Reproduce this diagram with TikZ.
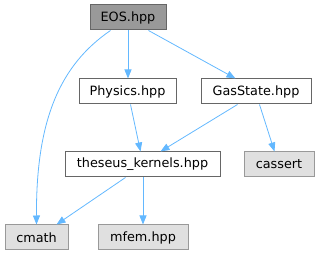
\documentclass[tikz,border=0pt]{standalone}
\usepackage{fontspec}
\setmainfont{DejaVu Sans}
\usetikzlibrary{arrows.meta,calc}
\definecolor{edgeblue}{HTML}{63B8FF}
\definecolor{rootfill}{HTML}{999999}
\definecolor{rootdraw}{HTML}{666666}
\definecolor{leaffill}{HTML}{E0E0E0}
\definecolor{leafdraw}{HTML}{999999}
\tikzset{
  box/.style={draw=rootdraw,fill=white,line width=1pt,minimum height=25pt,inner sep=0pt,font=\fontsize{12.8}{15}\selectfont,text=black},
  rootbox/.style={box,fill=rootfill},
  leafbox/.style={box,draw=leafdraw,fill=leaffill},
  dep/.style={draw=edgeblue,line width=0.8pt,-{Triangle[length=9pt,width=7pt,fill=edgeblue]}}
}
\begin{document}
\begin{tikzpicture}[x=1pt,y=-1pt]
\useasboundingbox (0,0) rectangle (319,256);
\node[rootbox,minimum width=76pt] (eos) at (128,17.5) {EOS.hpp};
\node[box,minimum width=97pt] (phys) at (127.5,91.5) {Physics.hpp};
\node[box,minimum width=110pt] (gas) at (256,91.5) {GasState.hpp};
\node[box,minimum width=155pt] (thes) at (142.5,164.5) {theseus\_kernels.hpp};
\node[leafbox,minimum width=70pt] (cassert) at (279,164.5) {cassert};
\node[leafbox,minimum width=63pt] (cmath) at (36.5,237.5) {cmath};
\node[leafbox,minimum width=90pt] (mfem) at (143,237.5) {mfem.hpp};
% edges
\draw[dep] ($(eos.south west)+(21,0)$) .. controls (60,65) and (36,120) .. (cmath.north);
\draw[dep] (eos.south) -- (phys.north -| eos.south);
\draw[dep] ($(eos.south west)+(59,0)$) -- ($(gas.north west)+(35,0)$);
\draw[dep] ($(phys.south west)+(52,0)$) -- ($(thes.north west)+(76,0)$);
\draw[dep] ($(gas.south west)+(37,0)$) -- ($(thes.north west)+(96,0)$);
\draw[dep] ($(gas.south west)+(59,0)$) -- ($(cassert.north west)+(31,0)$);
\draw[dep] ($(thes.south west)+(61,0)$) -- ($(cmath.north west)+(52,0)$);
\draw[dep] (mfem.north |- thes.south) -- (mfem.north);
\end{tikzpicture}
\end{document}
